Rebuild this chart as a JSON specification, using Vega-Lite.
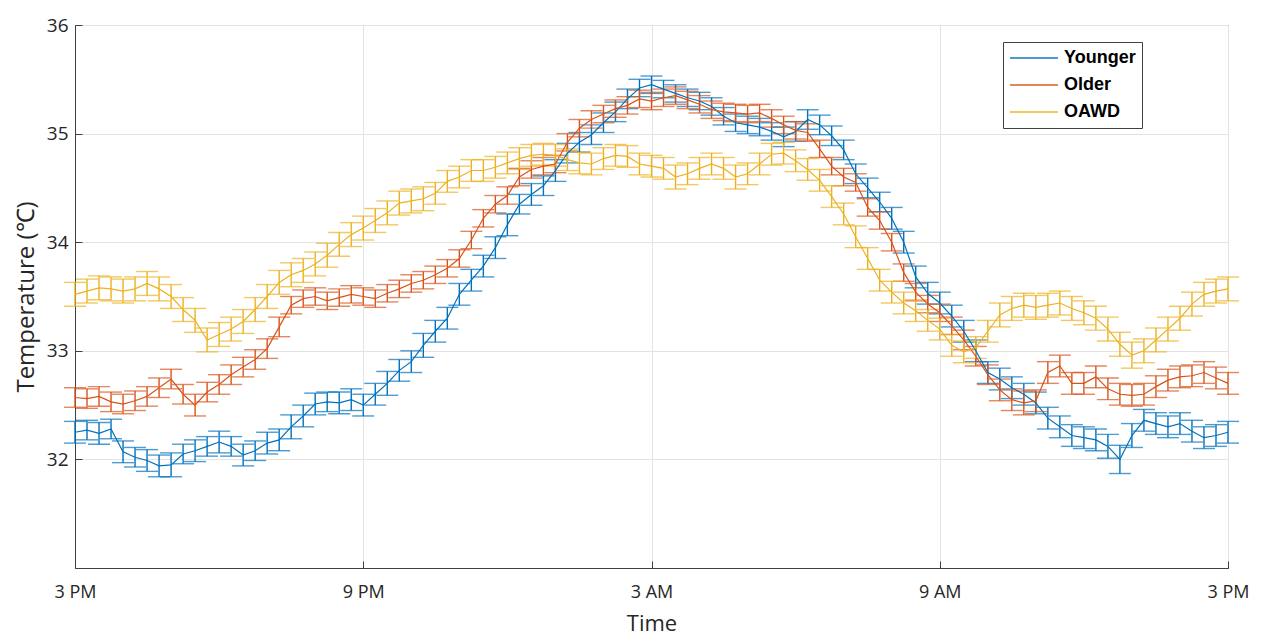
{
"$schema":"https://vega.github.io/schema/vega-lite/v6.json",
"width":1153,"height":543,"autosize":"none",
"padding":{"left":75,"top":25,"right":36,"bottom":69},
"background":"white",
"config":{"view":{"stroke":"#404040","strokeWidth":1},"font":"Open Sans"},
"datasets":{"t":[
{"s":"Younger","h":0,"v":32.25,"e":0.1},{"s":"Younger","h":0.25,"v":32.27,"e":0.09},{"s":"Younger","h":0.5,"v":32.24,"e":0.1},{"s":"Younger","h":0.75,"v":32.28,"e":0.09},{"s":"Younger","h":1,"v":32.07,"e":0.1},{"s":"Younger","h":1.25,"v":32.02,"e":0.09},{"s":"Younger","h":1.5,"v":31.99,"e":0.1},{"s":"Younger","h":1.75,"v":31.94,"e":0.1},{"s":"Younger","h":2,"v":31.95,"e":0.11},{"s":"Younger","h":2.25,"v":32.05,"e":0.09},
{"s":"Younger","h":2.5,"v":32.08,"e":0.1},{"s":"Younger","h":2.75,"v":32.12,"e":0.09},{"s":"Younger","h":3,"v":32.16,"e":0.1},{"s":"Younger","h":3.25,"v":32.12,"e":0.09},{"s":"Younger","h":3.5,"v":32.04,"e":0.1},{"s":"Younger","h":3.75,"v":32.08,"e":0.09},{"s":"Younger","h":4,"v":32.15,"e":0.1},{"s":"Younger","h":4.25,"v":32.18,"e":0.1},{"s":"Younger","h":4.5,"v":32.3,"e":0.11},{"s":"Younger","h":4.75,"v":32.4,"e":0.1},
{"s":"Younger","h":5,"v":32.51,"e":0.1},{"s":"Younger","h":5.25,"v":32.53,"e":0.09},{"s":"Younger","h":5.5,"v":32.52,"e":0.1},{"s":"Younger","h":5.75,"v":32.55,"e":0.1},{"s":"Younger","h":6,"v":32.5,"e":0.1},{"s":"Younger","h":6.25,"v":32.6,"e":0.1},{"s":"Younger","h":6.5,"v":32.7,"e":0.11},{"s":"Younger","h":6.75,"v":32.82,"e":0.1},{"s":"Younger","h":7,"v":32.9,"e":0.1},{"s":"Younger","h":7.25,"v":33.05,"e":0.11},
{"s":"Younger","h":7.5,"v":33.18,"e":0.1},{"s":"Younger","h":7.75,"v":33.3,"e":0.1},{"s":"Younger","h":8,"v":33.52,"e":0.1},{"s":"Younger","h":8.25,"v":33.65,"e":0.1},{"s":"Younger","h":8.5,"v":33.78,"e":0.1},{"s":"Younger","h":8.75,"v":33.95,"e":0.1},{"s":"Younger","h":9,"v":34.16,"e":0.1},{"s":"Younger","h":9.25,"v":34.35,"e":0.09},{"s":"Younger","h":9.5,"v":34.44,"e":0.1},{"s":"Younger","h":9.75,"v":34.52,"e":0.09},
{"s":"Younger","h":10,"v":34.66,"e":0.1},{"s":"Younger","h":10.25,"v":34.82,"e":0.09},{"s":"Younger","h":10.5,"v":34.92,"e":0.09},{"s":"Younger","h":10.75,"v":34.99,"e":0.09},{"s":"Younger","h":11,"v":35.1,"e":0.09},{"s":"Younger","h":11.25,"v":35.2,"e":0.09},{"s":"Younger","h":11.5,"v":35.32,"e":0.09},{"s":"Younger","h":11.75,"v":35.42,"e":0.08},{"s":"Younger","h":12,"v":35.45,"e":0.08},{"s":"Younger","h":12.25,"v":35.41,"e":0.08},
{"s":"Younger","h":12.5,"v":35.37,"e":0.08},{"s":"Younger","h":12.75,"v":35.33,"e":0.08},{"s":"Younger","h":13,"v":35.3,"e":0.08},{"s":"Younger","h":13.25,"v":35.25,"e":0.08},{"s":"Younger","h":13.5,"v":35.16,"e":0.08},{"s":"Younger","h":13.75,"v":35.1,"e":0.08},{"s":"Younger","h":14,"v":35.08,"e":0.08},{"s":"Younger","h":14.25,"v":35.06,"e":0.08},{"s":"Younger","h":14.5,"v":35.02,"e":0.08},{"s":"Younger","h":14.75,"v":34.97,"e":0.09},
{"s":"Younger","h":15,"v":35.02,"e":0.09},{"s":"Younger","h":15.25,"v":35.13,"e":0.09},{"s":"Younger","h":15.5,"v":35.08,"e":0.09},{"s":"Younger","h":15.75,"v":34.98,"e":0.09},{"s":"Younger","h":16,"v":34.85,"e":0.09},{"s":"Younger","h":16.25,"v":34.63,"e":0.09},{"s":"Younger","h":16.5,"v":34.5,"e":0.09},{"s":"Younger","h":16.75,"v":34.37,"e":0.09},{"s":"Younger","h":17,"v":34.22,"e":0.1},{"s":"Younger","h":17.25,"v":34.0,"e":0.1},
{"s":"Younger","h":17.5,"v":33.68,"e":0.1},{"s":"Younger","h":17.75,"v":33.53,"e":0.1},{"s":"Younger","h":18,"v":33.44,"e":0.1},{"s":"Younger","h":18.25,"v":33.32,"e":0.1},{"s":"Younger","h":18.5,"v":33.18,"e":0.1},{"s":"Younger","h":18.75,"v":33.0,"e":0.1},{"s":"Younger","h":19,"v":32.8,"e":0.1},{"s":"Younger","h":19.25,"v":32.74,"e":0.1},{"s":"Younger","h":19.5,"v":32.66,"e":0.1},{"s":"Younger","h":19.75,"v":32.6,"e":0.1},
{"s":"Younger","h":20,"v":32.52,"e":0.1},{"s":"Younger","h":20.25,"v":32.38,"e":0.1},{"s":"Younger","h":20.5,"v":32.3,"e":0.1},{"s":"Younger","h":20.75,"v":32.22,"e":0.1},{"s":"Younger","h":21,"v":32.2,"e":0.1},{"s":"Younger","h":21.25,"v":32.18,"e":0.1},{"s":"Younger","h":21.5,"v":32.12,"e":0.11},{"s":"Younger","h":21.75,"v":32.0,"e":0.13},{"s":"Younger","h":22,"v":32.22,"e":0.11},{"s":"Younger","h":22.25,"v":32.36,"e":0.1},
{"s":"Younger","h":22.5,"v":32.33,"e":0.1},{"s":"Younger","h":22.75,"v":32.3,"e":0.1},{"s":"Younger","h":23,"v":32.33,"e":0.1},{"s":"Younger","h":23.25,"v":32.26,"e":0.1},{"s":"Younger","h":23.5,"v":32.2,"e":0.1},{"s":"Younger","h":23.75,"v":32.22,"e":0.1},{"s":"Younger","h":24,"v":32.25,"e":0.1},
{"s":"Older","h":0,"v":32.57,"e":0.09},{"s":"Older","h":0.25,"v":32.56,"e":0.09},{"s":"Older","h":0.5,"v":32.58,"e":0.09},{"s":"Older","h":0.75,"v":32.53,"e":0.09},{"s":"Older","h":1,"v":32.51,"e":0.09},{"s":"Older","h":1.25,"v":32.54,"e":0.09},{"s":"Older","h":1.5,"v":32.58,"e":0.09},{"s":"Older","h":1.75,"v":32.66,"e":0.09},{"s":"Older","h":2,"v":32.74,"e":0.09},{"s":"Older","h":2.25,"v":32.6,"e":0.09},
{"s":"Older","h":2.5,"v":32.5,"e":0.1},{"s":"Older","h":2.75,"v":32.62,"e":0.09},{"s":"Older","h":3,"v":32.69,"e":0.09},{"s":"Older","h":3.25,"v":32.78,"e":0.09},{"s":"Older","h":3.5,"v":32.85,"e":0.09},{"s":"Older","h":3.75,"v":32.92,"e":0.09},{"s":"Older","h":4,"v":33.02,"e":0.09},{"s":"Older","h":4.25,"v":33.22,"e":0.09},{"s":"Older","h":4.5,"v":33.42,"e":0.08},{"s":"Older","h":4.75,"v":33.48,"e":0.08},
{"s":"Older","h":5,"v":33.5,"e":0.08},{"s":"Older","h":5.25,"v":33.46,"e":0.08},{"s":"Older","h":5.5,"v":33.49,"e":0.08},{"s":"Older","h":5.75,"v":33.52,"e":0.08},{"s":"Older","h":6,"v":33.5,"e":0.08},{"s":"Older","h":6.25,"v":33.48,"e":0.08},{"s":"Older","h":6.5,"v":33.53,"e":0.08},{"s":"Older","h":6.75,"v":33.57,"e":0.08},{"s":"Older","h":7,"v":33.62,"e":0.08},{"s":"Older","h":7.25,"v":33.65,"e":0.08},
{"s":"Older","h":7.5,"v":33.7,"e":0.08},{"s":"Older","h":7.75,"v":33.76,"e":0.08},{"s":"Older","h":8,"v":33.85,"e":0.08},{"s":"Older","h":8.25,"v":34.02,"e":0.08},{"s":"Older","h":8.5,"v":34.22,"e":0.08},{"s":"Older","h":8.75,"v":34.35,"e":0.08},{"s":"Older","h":9,"v":34.43,"e":0.08},{"s":"Older","h":9.25,"v":34.6,"e":0.08},{"s":"Older","h":9.5,"v":34.67,"e":0.08},{"s":"Older","h":9.75,"v":34.7,"e":0.08},
{"s":"Older","h":10,"v":34.72,"e":0.08},{"s":"Older","h":10.25,"v":34.92,"e":0.08},{"s":"Older","h":10.5,"v":35.05,"e":0.08},{"s":"Older","h":10.75,"v":35.13,"e":0.08},{"s":"Older","h":11,"v":35.18,"e":0.08},{"s":"Older","h":11.25,"v":35.23,"e":0.08},{"s":"Older","h":11.5,"v":35.26,"e":0.08},{"s":"Older","h":11.75,"v":35.32,"e":0.08},{"s":"Older","h":12,"v":35.3,"e":0.08},{"s":"Older","h":12.25,"v":35.33,"e":0.08},
{"s":"Older","h":12.5,"v":35.35,"e":0.08},{"s":"Older","h":12.75,"v":35.31,"e":0.08},{"s":"Older","h":13,"v":35.27,"e":0.08},{"s":"Older","h":13.25,"v":35.22,"e":0.08},{"s":"Older","h":13.5,"v":35.2,"e":0.08},{"s":"Older","h":13.75,"v":35.19,"e":0.08},{"s":"Older","h":14,"v":35.18,"e":0.08},{"s":"Older","h":14.25,"v":35.19,"e":0.08},{"s":"Older","h":14.5,"v":35.14,"e":0.08},{"s":"Older","h":14.75,"v":35.08,"e":0.08},
{"s":"Older","h":15,"v":35.03,"e":0.08},{"s":"Older","h":15.25,"v":35.01,"e":0.08},{"s":"Older","h":15.5,"v":34.86,"e":0.08},{"s":"Older","h":15.75,"v":34.7,"e":0.08},{"s":"Older","h":16,"v":34.6,"e":0.08},{"s":"Older","h":16.25,"v":34.55,"e":0.08},{"s":"Older","h":16.5,"v":34.32,"e":0.08},{"s":"Older","h":16.75,"v":34.2,"e":0.08},{"s":"Older","h":17,"v":34.0,"e":0.08},{"s":"Older","h":17.25,"v":33.72,"e":0.08},
{"s":"Older","h":17.5,"v":33.54,"e":0.08},{"s":"Older","h":17.75,"v":33.43,"e":0.08},{"s":"Older","h":18,"v":33.35,"e":0.08},{"s":"Older","h":18.25,"v":33.23,"e":0.08},{"s":"Older","h":18.5,"v":33.1,"e":0.09},{"s":"Older","h":18.75,"v":32.95,"e":0.09},{"s":"Older","h":19,"v":32.78,"e":0.09},{"s":"Older","h":19.25,"v":32.64,"e":0.1},{"s":"Older","h":19.5,"v":32.55,"e":0.1},{"s":"Older","h":19.75,"v":32.52,"e":0.11},
{"s":"Older","h":20,"v":32.54,"e":0.1},{"s":"Older","h":20.25,"v":32.8,"e":0.1},{"s":"Older","h":20.5,"v":32.86,"e":0.1},{"s":"Older","h":20.75,"v":32.7,"e":0.1},{"s":"Older","h":21,"v":32.7,"e":0.1},{"s":"Older","h":21.25,"v":32.76,"e":0.1},{"s":"Older","h":21.5,"v":32.65,"e":0.1},{"s":"Older","h":21.75,"v":32.6,"e":0.1},{"s":"Older","h":22,"v":32.59,"e":0.1},{"s":"Older","h":22.25,"v":32.6,"e":0.1},
{"s":"Older","h":22.5,"v":32.67,"e":0.1},{"s":"Older","h":22.75,"v":32.73,"e":0.1},{"s":"Older","h":23,"v":32.76,"e":0.1},{"s":"Older","h":23.25,"v":32.77,"e":0.1},{"s":"Older","h":23.5,"v":32.8,"e":0.1},{"s":"Older","h":23.75,"v":32.75,"e":0.1},{"s":"Older","h":24,"v":32.7,"e":0.1},
{"s":"OAWD","h":0,"v":33.52,"e":0.11},{"s":"OAWD","h":0.25,"v":33.55,"e":0.11},{"s":"OAWD","h":0.5,"v":33.58,"e":0.11},{"s":"OAWD","h":0.75,"v":33.57,"e":0.11},{"s":"OAWD","h":1,"v":33.55,"e":0.11},{"s":"OAWD","h":1.25,"v":33.57,"e":0.11},{"s":"OAWD","h":1.5,"v":33.62,"e":0.11},{"s":"OAWD","h":1.75,"v":33.57,"e":0.11},{"s":"OAWD","h":2,"v":33.5,"e":0.11},{"s":"OAWD","h":2.25,"v":33.38,"e":0.11},
{"s":"OAWD","h":2.5,"v":33.28,"e":0.11},{"s":"OAWD","h":2.75,"v":33.1,"e":0.11},{"s":"OAWD","h":3,"v":33.15,"e":0.11},{"s":"OAWD","h":3.25,"v":33.2,"e":0.11},{"s":"OAWD","h":3.5,"v":33.27,"e":0.11},{"s":"OAWD","h":3.75,"v":33.38,"e":0.11},{"s":"OAWD","h":4,"v":33.5,"e":0.11},{"s":"OAWD","h":4.25,"v":33.63,"e":0.11},{"s":"OAWD","h":4.5,"v":33.7,"e":0.11},{"s":"OAWD","h":4.75,"v":33.74,"e":0.11},
{"s":"OAWD","h":5,"v":33.8,"e":0.11},{"s":"OAWD","h":5.25,"v":33.88,"e":0.11},{"s":"OAWD","h":5.5,"v":33.98,"e":0.11},{"s":"OAWD","h":5.75,"v":34.07,"e":0.11},{"s":"OAWD","h":6,"v":34.13,"e":0.11},{"s":"OAWD","h":6.25,"v":34.2,"e":0.11},{"s":"OAWD","h":6.5,"v":34.27,"e":0.11},{"s":"OAWD","h":6.75,"v":34.36,"e":0.11},{"s":"OAWD","h":7,"v":34.38,"e":0.11},{"s":"OAWD","h":7.25,"v":34.4,"e":0.11},
{"s":"OAWD","h":7.5,"v":34.45,"e":0.1},{"s":"OAWD","h":7.75,"v":34.56,"e":0.1},{"s":"OAWD","h":8,"v":34.6,"e":0.1},{"s":"OAWD","h":8.25,"v":34.66,"e":0.1},{"s":"OAWD","h":8.5,"v":34.66,"e":0.1},{"s":"OAWD","h":8.75,"v":34.69,"e":0.1},{"s":"OAWD","h":9,"v":34.73,"e":0.1},{"s":"OAWD","h":9.25,"v":34.77,"e":0.1},{"s":"OAWD","h":9.5,"v":34.8,"e":0.1},{"s":"OAWD","h":9.75,"v":34.81,"e":0.1},
{"s":"OAWD","h":10,"v":34.8,"e":0.1},{"s":"OAWD","h":10.25,"v":34.76,"e":0.1},{"s":"OAWD","h":10.5,"v":34.73,"e":0.1},{"s":"OAWD","h":10.75,"v":34.72,"e":0.1},{"s":"OAWD","h":11,"v":34.77,"e":0.1},{"s":"OAWD","h":11.25,"v":34.8,"e":0.1},{"s":"OAWD","h":11.5,"v":34.79,"e":0.1},{"s":"OAWD","h":11.75,"v":34.72,"e":0.1},{"s":"OAWD","h":12,"v":34.7,"e":0.1},{"s":"OAWD","h":12.25,"v":34.68,"e":0.1},
{"s":"OAWD","h":12.5,"v":34.6,"e":0.11},{"s":"OAWD","h":12.75,"v":34.63,"e":0.1},{"s":"OAWD","h":13,"v":34.68,"e":0.1},{"s":"OAWD","h":13.25,"v":34.72,"e":0.1},{"s":"OAWD","h":13.5,"v":34.68,"e":0.1},{"s":"OAWD","h":13.75,"v":34.6,"e":0.11},{"s":"OAWD","h":14,"v":34.63,"e":0.1},{"s":"OAWD","h":14.25,"v":34.72,"e":0.1},{"s":"OAWD","h":14.5,"v":34.81,"e":0.1},{"s":"OAWD","h":14.75,"v":34.82,"e":0.1},
{"s":"OAWD","h":15,"v":34.75,"e":0.1},{"s":"OAWD","h":15.25,"v":34.67,"e":0.1},{"s":"OAWD","h":15.5,"v":34.57,"e":0.1},{"s":"OAWD","h":15.75,"v":34.42,"e":0.1},{"s":"OAWD","h":16,"v":34.26,"e":0.1},{"s":"OAWD","h":16.25,"v":34.05,"e":0.1},{"s":"OAWD","h":16.5,"v":33.85,"e":0.1},{"s":"OAWD","h":16.75,"v":33.65,"e":0.1},{"s":"OAWD","h":17,"v":33.54,"e":0.1},{"s":"OAWD","h":17.25,"v":33.44,"e":0.1},
{"s":"OAWD","h":17.5,"v":33.37,"e":0.1},{"s":"OAWD","h":17.75,"v":33.28,"e":0.1},{"s":"OAWD","h":18,"v":33.2,"e":0.1},{"s":"OAWD","h":18.25,"v":33.05,"e":0.1},{"s":"OAWD","h":18.5,"v":32.99,"e":0.1},{"s":"OAWD","h":18.75,"v":33.03,"e":0.1},{"s":"OAWD","h":19,"v":33.18,"e":0.1},{"s":"OAWD","h":19.25,"v":33.33,"e":0.11},{"s":"OAWD","h":19.5,"v":33.39,"e":0.11},{"s":"OAWD","h":19.75,"v":33.42,"e":0.11},
{"s":"OAWD","h":20,"v":33.4,"e":0.11},{"s":"OAWD","h":20.25,"v":33.42,"e":0.11},{"s":"OAWD","h":20.5,"v":33.44,"e":0.11},{"s":"OAWD","h":20.75,"v":33.39,"e":0.11},{"s":"OAWD","h":21,"v":33.35,"e":0.11},{"s":"OAWD","h":21.25,"v":33.3,"e":0.11},{"s":"OAWD","h":21.5,"v":33.2,"e":0.11},{"s":"OAWD","h":21.75,"v":33.06,"e":0.11},{"s":"OAWD","h":22,"v":32.96,"e":0.12},{"s":"OAWD","h":22.25,"v":33.0,"e":0.11},
{"s":"OAWD","h":22.5,"v":33.1,"e":0.11},{"s":"OAWD","h":22.75,"v":33.2,"e":0.11},{"s":"OAWD","h":23,"v":33.3,"e":0.11},{"s":"OAWD","h":23.25,"v":33.43,"e":0.11},{"s":"OAWD","h":23.5,"v":33.52,"e":0.11},{"s":"OAWD","h":23.75,"v":33.55,"e":0.11},{"s":"OAWD","h":24,"v":33.57,"e":0.11}
]},
"data":{"name":"t"},
"encoding":{
"x":{"field":"h","type":"quantitative","title":"Time","scale":{"domain":[0,24],"nice":false,"zero":false},
"axis":{"values":[0,6,12,18,24],"labelExpr":"['3 PM','9 PM','3 AM','9 AM','3 PM'][round(datum.value/6)]","grid":true,"gridColor":"#e3e3e3","domainColor":"#404040","tickColor":"#404040","tickSize":-7,"labelFontSize":18,"labelColor":"#262626","labelPadding":22,"labelFlush":false,"titleFontSize":22,"titleFontWeight":"normal","titleColor":"#262626","titlePadding":12}},
"color":{"field":"s","type":"nominal","scale":{"domain":["Younger","Older","OAWD"],"range":["#0072BD","#D95319","#EDB120"]},
"legend":{"title":null,"orient":"none","legendX":928,"legendY":17,"symbolType":"stroke","symbolSize":2300,"symbolStrokeWidth":2,"clipHeight":20,"labelFont":"Liberation Sans","labelFontWeight":"bold","labelFontSize":18,"labelColor":"#000000","strokeColor":"#404040","fillColor":"white","padding":6,"rowPadding":7,"labelOffset":5}}
},
"layer":[
{"mark":{"type":"errorbar","ticks":{"size":22},"thickness":1.4},
"encoding":{"y":{"field":"v","type":"quantitative","title":"Temperature (℃)","scale":{"domain":[31,36],"nice":false,"zero":false},
"axis":{"values":[32,33,34,35,36],"format":"d","grid":true,"gridColor":"#e3e3e3","domainColor":"#404040","tickColor":"#404040","tickSize":-7,"labelFontSize":19,"labelColor":"#262626","labelPadding":14,"titleFontSize":24,"titleFontWeight":"normal","titleColor":"#262626","titlePadding":8}},
"yError":{"field":"e"}}},
{"mark":{"type":"line","strokeWidth":1.2},"encoding":{"y":{"field":"v","type":"quantitative"}}}
]
}
